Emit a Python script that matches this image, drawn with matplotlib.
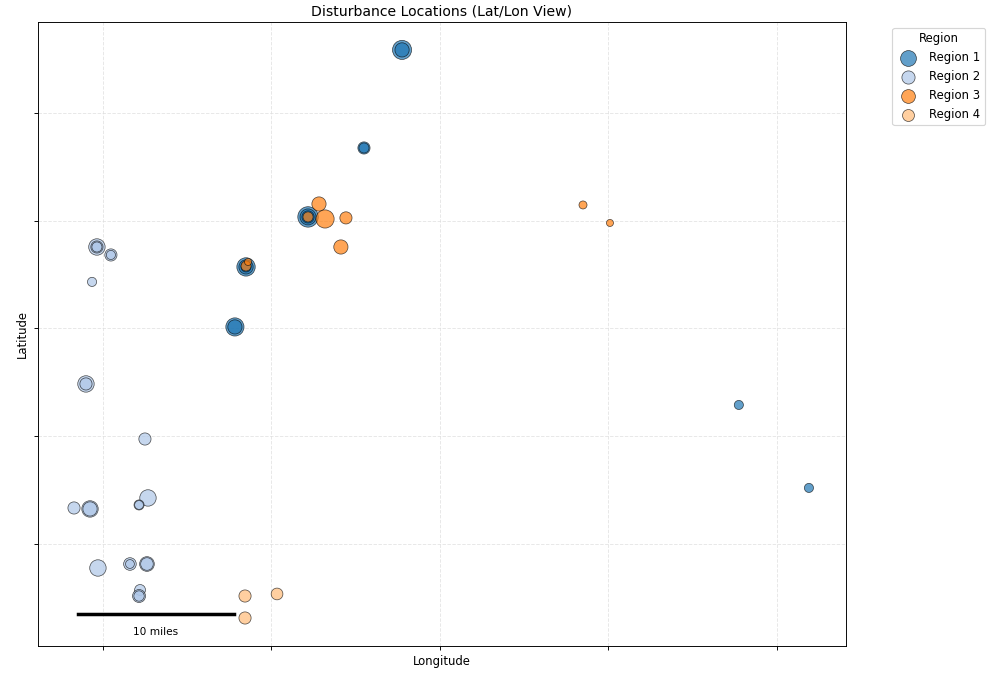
import numpy as np
import matplotlib.pyplot as plt

# disturbance points per region: lon, lat, marker size
r1_lon = [-84.4225, -84.4225, -84.4451, -84.4451, -84.4783, -84.4783, -84.4783,
          -84.5151, -84.5151, -84.5151, -84.5217, -84.5217, -84.2226, -84.1810]
r1_lat = [33.9585, 33.9585, 33.8675, 33.8675, 33.8035, 33.8035, 33.8035,
          33.7571, 33.7571, 33.7571, 33.7014, 33.7014, 33.6290, 33.5520]
r1_size = [270, 150, 110, 75, 310, 190, 110, 250, 150, 75, 245, 150, 62, 62]

r2_lon = [-84.6036, -84.6036, -84.6036, -84.5953, -84.5953, -84.6065, -84.6101, -84.6101,
          -84.5751, -84.6172, -84.6077, -84.6077, -84.5733, -84.5786, -84.5786,
          -84.6030, -84.5840, -84.5840, -84.5739, -84.5739, -84.5780, -84.5786, -84.5786]
r2_lat = [33.7756, 33.7756, 33.7756, 33.7682, 33.7682, 33.7432, 33.6485, 33.6485,
          33.5974, 33.5334, 33.5325, 33.5325, 33.5427, 33.5362, 33.5362,
          33.4777, 33.4814, 33.4814, 33.4814, 33.4814, 33.4573, 33.4517, 33.4517]
r2_size = [200, 110, 75, 110, 62, 62, 200, 110,
           110, 110, 200, 150, 200, 75, 58,
           200, 118, 58, 160, 118, 88, 125, 80]

r3_lon = [-84.4718, -84.4682, -84.4558, -84.4588, -84.4783, -84.5151, -84.5139, -84.3151, -84.2991]
r3_lat = [33.8155, 33.8016, 33.8026, 33.7756, 33.8035, 33.7580, 33.7617, 33.8146, 33.7979]
r3_size = [150, 245, 110, 150, 75, 75, 37, 48, 37]

r4_lon = [-84.5157, -84.4967, -84.5157]
r4_lat = [33.4517, 33.4536, 33.4313]
r4_size = [110, 102, 110]

regions = ['Region 1', 'Region 2', 'Region 3', 'Region 4']
colors = ['#1f77b4', '#aec7e8', '#ff7f0e', '#ffbb78']

fig = plt.figure(figsize=(12, 8.045), dpi=83.67)
ax = fig.add_axes([0.0378, 0.0401, 0.8048, 0.9272])

data = [(r1_lon, r1_lat, r1_size), (r2_lon, r2_lat, r2_size),
        (r3_lon, r3_lat, r3_size), (r4_lon, r4_lat, r4_size)]
for (lon, lat, size), name, c in zip(data, regions, colors):
    ax.scatter(lon, lat, s=size, c=c, alpha=0.7, edgecolors='k', linewidths=0.6, label=name)

# scale bar
ax.plot([-84.6148, -84.5223], [33.435, 33.435], color='k', linewidth=3)
ax.text(-84.5685, 33.4183, '10 miles', ha='center', va='center', fontsize=9)

ax.set_xlim(-84.6386, -84.1590)
ax.set_ylim(33.4053, 33.9845)
ax.set_xticks([-84.6, -84.5, -84.4, -84.3, -84.2])
ax.set_yticks([33.5, 33.6, 33.7, 33.8, 33.9])
ax.tick_params(labelbottom=False, labelleft=False)
ax.grid(True, linestyle='--', color='#dddddd', alpha=0.7)
ax.set_axisbelow(True)

ax.set_title('Disturbance Locations (Lat/Lon View)', fontsize=12)
ax.set_xlabel('Longitude')
ax.set_ylabel('Latitude')
ax.legend(title='Region', loc='upper left', bbox_to_anchor=(1.05, 1.0))

fig.savefig('out.png', dpi=83.67)
